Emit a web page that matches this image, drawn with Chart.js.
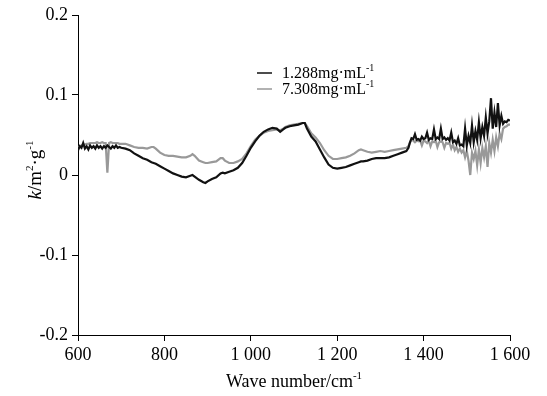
<!DOCTYPE html>
<html>
<head>
<meta charset="utf-8">
<script src="https://cdn.jsdelivr.net/npm/chart.js@4"></script>
<style>
  html, body { margin: 0; padding: 0; background: #fff; }
  .wrap { width: 547px; height: 396px; position: relative; }
</style>
</head>
<body>
<div class="wrap"><canvas id="kChart"></canvas></div>
<script>
// wave numbers (cm-1)
const waveNumbers = [
  600, 604, 608, 612, 616, 620, 624, 628, 632, 636, 640, 644, 648, 652, 656, 660, 664, 668, 672, 676, 680, 684, 688, 692, 696, 700,
  710, 720, 730, 740, 750, 760, 770, 775, 780, 790, 800, 810, 820, 830, 840, 850, 860, 865, 870, 880, 890, 895, 900, 910, 920, 930,
  935, 940, 950, 960, 970, 980, 990, 1000, 1010, 1020, 1030, 1040, 1050, 1060, 1068, 1075, 1080, 1090, 1100, 1110, 1120, 1125, 1130,
  1140, 1150, 1160, 1170, 1180, 1190, 1200, 1210, 1220, 1230, 1240, 1250, 1255, 1260, 1270, 1280, 1290, 1300, 1310, 1320, 1330, 1340,
  1350, 1360, 1365,
  1368, 1372, 1376, 1380, 1384, 1388, 1392, 1396, 1400, 1404, 1408, 1412, 1416, 1420, 1424, 1428, 1432, 1436, 1440, 1444, 1448, 1452,
  1456, 1460, 1464, 1468, 1472, 1476, 1480, 1484, 1488, 1492, 1496, 1500, 1504, 1508, 1512, 1516, 1520, 1524, 1528, 1532, 1536, 1540,
  1544, 1548, 1552, 1556, 1560, 1564, 1568, 1572, 1576, 1580, 1584, 1588, 1592, 1596, 1600
];

// k for 1.288 mg/mL (black)
const kLow = [
  0.031, 0.036, 0.034, 0.040, 0.033, 0.036, 0.032, 0.037, 0.034, 0.036, 0.033, 0.037, 0.034, 0.036, 0.033, 0.036, 0.034, 0.037, 0.035, 0.033, 0.036, 0.034, 0.037, 0.034, 0.035, 0.034,
  0.033, 0.031, 0.027, 0.024, 0.021, 0.019, 0.016, 0.015, 0.014, 0.011, 0.008, 0.005, 0.002, 0.000, -0.002, -0.003, -0.001, 0.000, -0.002, -0.006, -0.009, -0.010, -0.008, -0.005, -0.003, 0.002,
  0.003, 0.002, 0.004, 0.006, 0.009, 0.015, 0.024, 0.034, 0.042, 0.049, 0.054, 0.057, 0.059, 0.058, 0.054, 0.057, 0.059, 0.061, 0.062, 0.063, 0.065, 0.065, 0.058,
  0.048, 0.042, 0.032, 0.022, 0.013, 0.009, 0.008, 0.009, 0.010, 0.012, 0.014, 0.016, 0.017, 0.017, 0.018, 0.020, 0.021, 0.021, 0.021, 0.022, 0.024, 0.026,
  0.028, 0.030, 0.034,
  0.040, 0.046, 0.045, 0.051, 0.044, 0.045, 0.043, 0.048, 0.045, 0.046, 0.053, 0.044, 0.046, 0.045, 0.057, 0.045, 0.047, 0.045, 0.058, 0.045, 0.047, 0.044,
  0.046, 0.043, 0.053, 0.041, 0.043, 0.039, 0.046, 0.037, 0.038, 0.036, 0.058, 0.037, 0.049, 0.040, 0.062, 0.041, 0.055, 0.044, 0.066, 0.046, 0.060, 0.049,
  0.072, 0.052, 0.067, 0.096, 0.058, 0.078, 0.060, 0.090, 0.062, 0.074, 0.064, 0.067, 0.066, 0.069, 0.068
];

// k for 7.308 mg/mL (grey)
const kHigh = [
  0.034, 0.036, 0.037, 0.038, 0.038, 0.039, 0.039, 0.040, 0.040, 0.040, 0.040, 0.041, 0.040, 0.040, 0.041, 0.040, 0.040, 0.003, 0.040, 0.041, 0.040, 0.040, 0.040, 0.040, 0.039, 0.039,
  0.039, 0.037, 0.035, 0.034, 0.034, 0.033, 0.035, 0.035, 0.033, 0.028, 0.025, 0.024, 0.024, 0.023, 0.022, 0.022, 0.024, 0.026, 0.024, 0.018, 0.016, 0.015, 0.015, 0.016, 0.017, 0.021,
  0.021, 0.018, 0.015, 0.015, 0.017, 0.020, 0.027, 0.036, 0.044, 0.049, 0.053, 0.055, 0.056, 0.057, 0.056, 0.058, 0.060, 0.062, 0.063, 0.064, 0.065, 0.065, 0.061,
  0.052, 0.047, 0.040, 0.031, 0.024, 0.020, 0.020, 0.021, 0.022, 0.024, 0.027, 0.031, 0.032, 0.031, 0.029, 0.028, 0.029, 0.030, 0.029, 0.030, 0.031, 0.032,
  0.033, 0.034, 0.036,
  0.040, 0.044, 0.043, 0.041, 0.043, 0.042, 0.043, 0.037, 0.043, 0.042, 0.040, 0.043, 0.036, 0.042, 0.041, 0.043, 0.035, 0.041, 0.042, 0.041, 0.034, 0.040,
  0.039, 0.040, 0.033, 0.038, 0.031, 0.035, 0.029, 0.033, 0.028, 0.031, 0.022, 0.030, 0.018, 0.000, 0.028, 0.020, 0.030, 0.012, 0.032, 0.015, 0.034, 0.022,
  0.036, 0.010, 0.040, 0.028, 0.044, 0.030, 0.047, 0.036, 0.052, 0.045, 0.058, 0.060, 0.061, 0.063, 0.063
];

const seriesNames = ['1.288mg·mL', '7.308mg·mL'];
const seriesColors = ['#111111', '#999999'];

const SERIF = '"Liberation Serif", "Times New Roman", serif';

function pts(ys) {
  return waveNumbers.map((x, i) => ({ x: x, y: ys[i] }));
}

// draws a run of text pieces with own font and baseline shift
function drawRich(ctx, parts, x, y, align) {
  let total = 0;
  parts.forEach(p => { ctx.font = p.font; total += ctx.measureText(p.t).width; });
  let cx = align === 'center' ? x - total / 2 : x;
  ctx.textBaseline = 'alphabetic';
  ctx.textAlign = 'left';
  parts.forEach(p => {
    ctx.font = p.font;
    ctx.fillText(p.t, cx, y + (p.dy || 0));
    cx += ctx.measureText(p.t).width;
  });
}

const decorPlugin = {
  id: 'decor',
  afterDraw(chart) {
    const ctx = chart.ctx;
    const area = chart.chartArea;
    ctx.save();
    ctx.fillStyle = '#000';

    // x title
    drawRich(ctx, [
      { t: 'Wave number/cm', font: '18px ' + SERIF },
      { t: '-1', font: '11px ' + SERIF, dy: -8 }
    ], (area.left + area.right) / 2, 387, 'center');

    // y title
    ctx.save();
    ctx.translate(41, 170);
    ctx.rotate(-Math.PI / 2);
    drawRich(ctx, [
      { t: 'k', font: 'italic 19px ' + SERIF },
      { t: '/m', font: '19px ' + SERIF },
      { t: '2', font: '11px ' + SERIF, dy: -8 },
      { t: '·g', font: '19px ' + SERIF },
      { t: '-1', font: '11px ' + SERIF, dy: -8 }
    ], 0, 0, 'center');
    ctx.restore();

    // legend
    const rows = [73, 89];
    rows.forEach((ry, i) => {
      ctx.strokeStyle = seriesColors[i];
      ctx.lineWidth = 1.5;
      ctx.beginPath();
      ctx.moveTo(257, ry);
      ctx.lineTo(272, ry);
      ctx.stroke();
      drawRich(ctx, [
        { t: seriesNames[i], font: '16px ' + SERIF },
        { t: '-1', font: '10px ' + SERIF, dy: -7 }
      ], 282, ry + 5, 'left');
    });
    ctx.restore();
  }
};

function fmtX(v) {
  return v >= 1000 ? Math.floor(v / 1000) + ' ' + String(v % 1000).padStart(3, '0') : String(v);
}

new Chart(document.getElementById('kChart'), {
  type: 'line',
  data: {
    datasets: [
      {
        label: seriesNames[0],
        data: pts(kLow),
        borderColor: seriesColors[0],
        borderWidth: 2.2,
        pointRadius: 0,
        tension: 0,
        fill: false
      },
      {
        label: seriesNames[1],
        data: pts(kHigh),
        borderColor: seriesColors[1],
        borderWidth: 2.2,
        pointRadius: 0,
        tension: 0,
        fill: false
      }
    ]
  },
  options: {
    responsive: true,
    maintainAspectRatio: false,
    animation: false,
    layout: { padding: { left: 0, right: 37, top: 15, bottom: 0 } },
    plugins: {
      legend: { display: false },
      tooltip: { enabled: false }
    },
    scales: {
      x: {
        type: 'linear',
        min: 600,
        max: 1600,
        afterFit(scale) { scale.height = 61; },
        border: { display: true, color: '#000', width: 1 },
        grid: { drawOnChartArea: false, drawTicks: true, tickLength: 6, color: '#000' },
        ticks: {
          stepSize: 200,
          autoSkip: false,
          maxRotation: 0,
          padding: 3,
          color: '#000',
          font: { family: SERIF, size: 18 },
          callback: v => fmtX(v)
        }
      },
      y: {
        min: -0.2,
        max: 0.2,
        afterFit(scale) { scale.width = 78; },
        border: { display: true, color: '#000', width: 1 },
        grid: { drawOnChartArea: false, drawTicks: true, tickLength: 6, color: '#000' },
        ticks: {
          stepSize: 0.1,
          padding: 4,
          color: '#000',
          font: { family: SERIF, size: 18 },
          callback: v => {
            const r = Math.round(v * 10) / 10;
            return r === 0 ? '0' : r.toFixed(1);
          }
        }
      }
    }
  },
  plugins: [decorPlugin]
});
</script>
</body>
</html>
